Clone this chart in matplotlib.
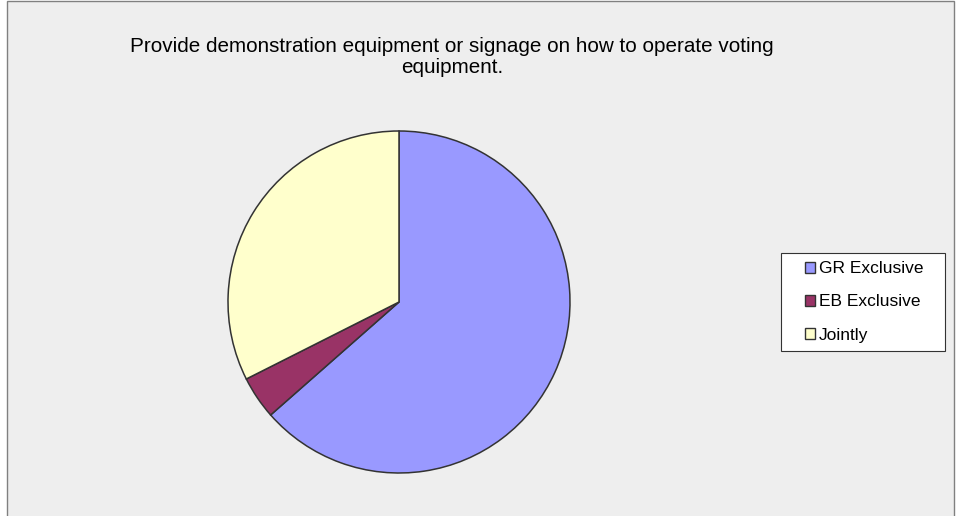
import matplotlib.pyplot as plt
from matplotlib.patches import Rectangle, Patch

labels = ["GR Exclusive", "EB Exclusive", "Jointly"]
counts = [47, 3, 24]
colors = ["#9999FF", "#993366", "#FFFFCC"]
title = "Provide demonstration equipment or signage on how to operate voting\nequipment."

W, H = 961, 516
fig = plt.figure(figsize=(W / 100, H / 100), dpi=100)
fig.patch.set_facecolor("white")

# chart area frame and legend box, in a background axes
bg = fig.add_axes([0, 0, 1, 1], zorder=-1)
bg.set_xlim(0, W)
bg.set_ylim(H, 0)
bg.axis("off")
bg.add_patch(Rectangle((7, 0.5), 947, H + 10, facecolor="#EEEEEE",
                       edgecolor="#808080", linewidth=1.0))
bg.add_patch(Rectangle((781, 253), 164, 98, facecolor="white",
                       edgecolor="#333333", linewidth=0.8))

cx, cy, r = 399, 302, 171
ax = fig.add_axes([(cx - r) / W, (H - cy - r) / H, 2 * r / W, 2 * r / H])
ax.set_facecolor("none")
ax.pie(counts, colors=colors, startangle=90, counterclock=False,
       wedgeprops=dict(edgecolor="#333333", linewidth=1.1))
ax.set_xlim(-1, 1)
ax.set_ylim(-1, 1)
ax.set_aspect("equal")
ax.axis("off")

fig.text(452 / W, 1 - 57 / H, title, ha="center", va="center",
         fontsize=14.9, family="Liberation Sans", linespacing=1.1)

handles = [Patch(facecolor=c, edgecolor="#333333", linewidth=1.0) for c in colors]
leg = fig.legend(handles, labels, loc="center", bbox_to_anchor=(864 / W, 1 - 302 / H),
                 frameon=False, prop={"family": "Liberation Sans", "size": 12.5},
                 handlelength=0.6, handleheight=0.6, handletextpad=0.2,
                 labelspacing=1.05, borderpad=0, borderaxespad=0)

fig.savefig("out.png", dpi=100)
